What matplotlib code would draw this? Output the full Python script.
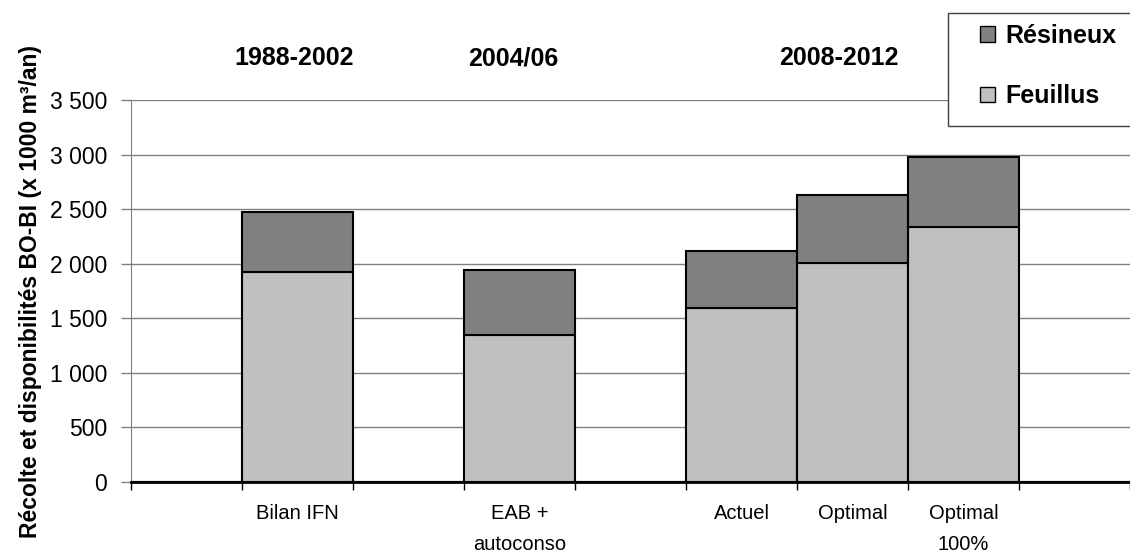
import matplotlib.pyplot as plt
from matplotlib.patches import Rectangle
from matplotlib.ticker import FixedLocator, FuncFormatter

plt.rcParams['font.family'] = ['Liberation Sans', 'DejaVu Sans']

categories = ["", "Bilan IFN", "", "EAB +\nautoconso", "", "Actuel", "Optimal", "Optimal\n100%", ""]
feuillus = [0, 1920, 0, 1350, 0, 1590, 2005, 2340, 0]
resineux = [0, 550, 0, 590, 0, 530, 625, 640, 0]
groups = ["1988-2002", "2004/06", "2008-2012"]
group_x = [0.97, 2.94, 5.88]

c_feu = "#c0c0c0"
c_res = "#808080"

fig = plt.figure(figsize=(11.3, 5.56), dpi=100)
ax = fig.add_axes([0.1159, 0.1331, 0.8841, 0.687])

x = list(range(len(categories)))
ax.bar(x, feuillus, width=1.0, color=c_feu, edgecolor="black", linewidth=1.5, zorder=3)
ax.bar(x, resineux, width=1.0, bottom=feuillus, color=c_res, edgecolor="black", linewidth=1.5, zorder=3)

ax.set_xlim(-0.5, len(categories) - 0.5)
ax.set_ylim(0, 3500)
ax.set_yticks(range(0, 3501, 500))
ax.yaxis.set_major_formatter(FuncFormatter(lambda v, p: f"{int(v):,}".replace(",", " ")))
ax.yaxis.grid(True, color="#808080", linewidth=1.0, zorder=0)
ax.tick_params(axis="y", length=7, width=1.0, color="#808080", labelsize=16.5, pad=10)

ax.set_xticks(x)
ax.set_xticklabels(categories, fontsize=14.5, linespacing=1.8)
ax.tick_params(axis="x", which="major", length=0, pad=16)
ax.xaxis.set_minor_locator(FixedLocator([i - 0.5 for i in range(len(categories) + 1)]))
ax.tick_params(axis="x", which="minor", length=6, width=1.0, color="black")

for s in ["top", "right"]:
    ax.spines[s].set_visible(False)
ax.spines["left"].set_color("#808080")
ax.spines["bottom"].set_linewidth(2.0)
ax.spines["bottom"].set_zorder(4)

ax.set_ylabel("Récolte et disponibilités BO-BI (x 1000 m³/an)", fontsize=16.5, fontweight="bold", labelpad=6)

for g, gx in zip(groups, group_x):
    ax.text(gx, 1.11, g, transform=ax.get_xaxis_transform(), ha="center", va="center",
            fontsize=18, fontweight="bold")

# legend frame runs off the right edge, as in the source
fig.patches.append(Rectangle((948 / 1130, 1 - 126 / 556), 0.2, 113 / 556, transform=fig.transFigure,
                             facecolor="white", edgecolor="#404040", linewidth=1.0, zorder=5))
handles = [Rectangle((0, 0), 1, 1, facecolor=c_res, edgecolor="black"),
           Rectangle((0, 0), 1, 1, facecolor=c_feu, edgecolor="black")]
leg = fig.legend(handles, ["Résineux", "Feuillus"], loc="upper left",
                 bbox_to_anchor=(980 / 1130, 1 - 24 / 556),
                 prop={"weight": "bold", "size": 18},
                 handlelength=0.6, handleheight=0.6, handletextpad=0.4, labelspacing=1.45,
                 borderpad=0, borderaxespad=0, frameon=False)
leg.set_zorder(6)

plt.savefig("out.png")
